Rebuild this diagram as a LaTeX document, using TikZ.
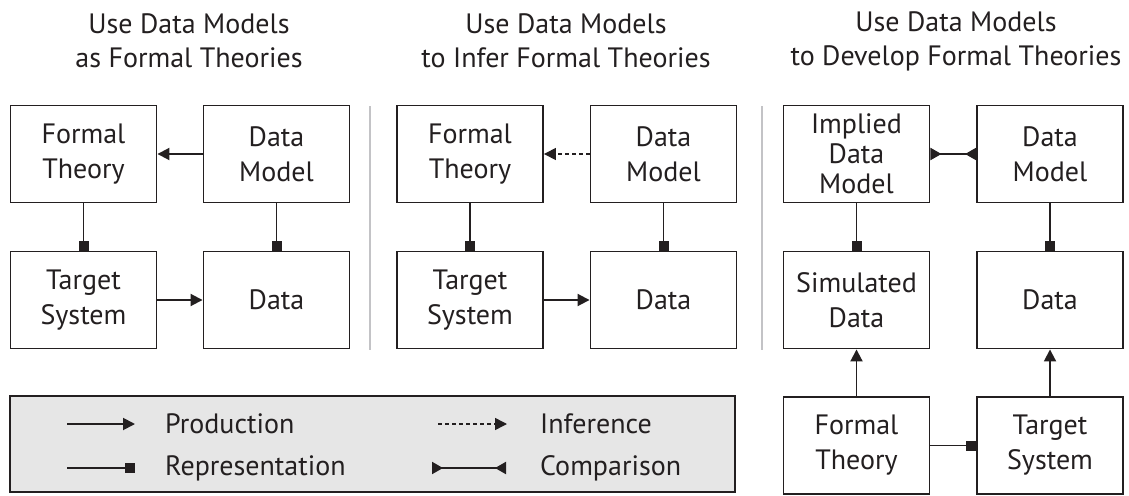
\documentclass[tikz,border=0pt]{standalone}
\usepackage{fontspec}
\setmainfont{PT Sans}
\usetikzlibrary{arrows.meta}
\definecolor{inkblack}{RGB}{35,31,32}
\definecolor{legendgray}{RGB}{230,230,230}
\definecolor{rulegray}{RGB}{195,195,198}
\tikzset{
    box/.style={draw=inkblack, line width=1.9pt, minimum width=146pt, minimum height=97pt,
        inner sep=0pt, align=center, text=inkblack, font=\fontsize{28}{35}\selectfont},
    title/.style={align=center, text=inkblack, font=\fontsize{28}{34}\selectfont},
    label/.style={anchor=west, inner sep=0pt, text=inkblack, font=\fontsize{28}{34}\selectfont},
    produces/.style={draw=inkblack, line width=1.9pt, -{Triangle[length=12pt,width=12pt]}},
    represents/.style={draw=inkblack, line width=1.9pt, -{Square[length=10pt,width=10pt]}},
    infers/.style={draw=inkblack, line width=1.5pt, dash pattern=on 4pt off 3pt,
        -{Triangle[length=12pt,width=12pt]}},
    compares/.style={draw=inkblack, line width=1.9pt,
        {Triangle[reversed,length=11pt,width=12pt]}-{Triangle[reversed,length=11pt,width=12pt]}}
}

\begin{document}
\begin{tikzpicture}[x=1pt, y=-1pt]
        \useasboundingbox (0,0) rectangle (1129,495);
        % Titles of the three panels.
            \node[title] (title1) at (189,41) {Use Data Models\\as Formal Theories};
            \node[title] (title2) at (566,41) {Use Data Models\\to Infer Formal Theories};
            \node[title] (title3) at (956,41) {Use Data Models\\to Develop Formal Theories};
        % Grey rules between the panels.
            \draw[rulegray, line width=1.2pt] (370,106) -- (370,350);
            \draw[rulegray, line width=1.2pt] (762,106) -- (762,350);
        % First panel.
            \node[box] (ft1) at (83.5,154) {Formal\\Theory};
            \node[box] (dm1) at (276.5,154) {Data\\Model};
            \node[box] (ts1) at (83.5,300) {Target\\System};
            \node[box] (d1) at (276.5,300) {Data};
            \draw[produces] (dm1) -- (ft1);
            \draw[represents] (ft1) -- (ts1);
            \draw[represents] (dm1) -- (d1);
            \draw[produces] (ts1) -- (d1);
        % Second panel.
            \node[box] (ft2) at (470,154) {Formal\\Theory};
            \node[box] (dm2) at (663.5,154) {Data\\Model};
            \node[box] (ts2) at (470,300) {Target\\System};
            \node[box] (d2) at (663.5,300) {Data};
            \draw[infers] (dm2) -- (ft2);
            \draw[represents] (ft2) -- (ts2);
            \draw[represents] (dm2) -- (d2);
            \draw[produces] (ts2) -- (d2);
        % Third panel.
            \node[box, font=\fontsize{28}{30}\selectfont] (idm3) at (856.5,154) {Implied\\Data\\Model};
            \node[box] (dm3) at (1050,154) {Data\\Model};
            \node[box] (sd3) at (856.5,300) {Simulated\\Data};
            \node[box] (d3) at (1050,300) {Data};
            \node[box] (ft3) at (856.5,445.5) {Formal\\Theory};
            \node[box] (ts3) at (1050,445.5) {Target\\System};
            \draw[compares] (idm3) -- (dm3);
            \draw[represents] (idm3) -- (sd3);
            \draw[represents] (dm3) -- (d3);
            \draw[produces] (ft3) -- (sd3);
            \draw[produces] (ts3) -- (d3);
            \draw[represents] (ft3) -- (ts3);
        % Legend.
            \draw[inkblack, fill=legendgray, line width=1.9pt] (10,396) rectangle (735,492);
            \coordinate (p0) at (67,424);  \coordinate (p1) at (135,424);
            \coordinate (r0) at (67,468);  \coordinate (r1) at (135,468);
            \coordinate (i0) at (438,424); \coordinate (i1) at (507,424);
            \coordinate (c0) at (432,468); \coordinate (c1) at (506,468);
            \draw[produces] (p0) -- (p1);
            \draw[represents] (r0) -- (r1);
            \draw[infers] (i0) -- (i1);
            \draw[compares] (c0) -- (c1);
            \node[label] (prod) at (165,424) {Production};
            \node[label] (repr) at (165,468) {Representation};
            \node[label] (infr) at (540,424) {Inference};
            \node[label] (comp) at (540,468) {Comparison};
    \end{tikzpicture}
\end{document}
